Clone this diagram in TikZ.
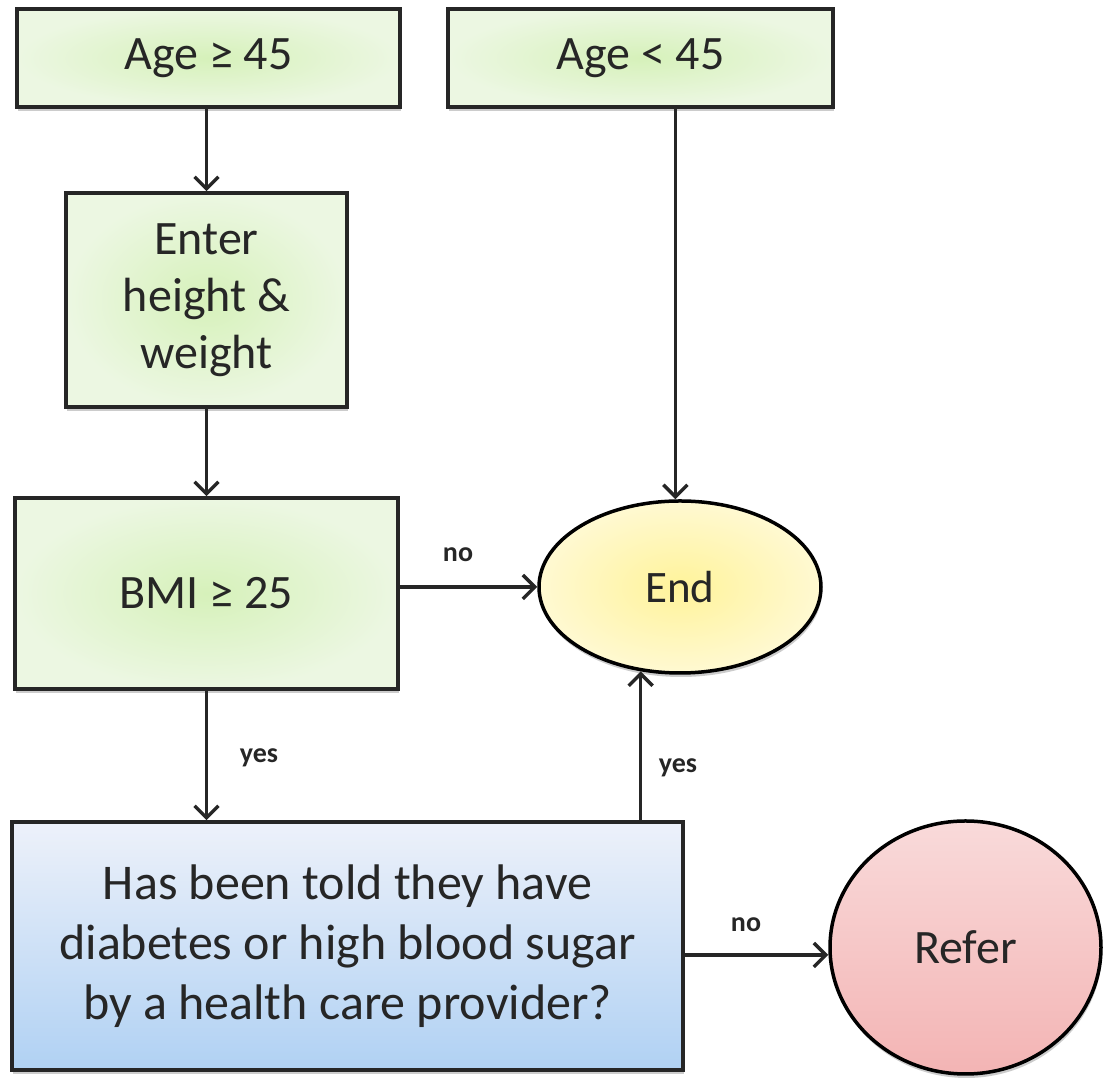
\documentclass[tikz,border=0pt]{standalone}
\usepackage{fontspec}
\setmainfont{Carlito}
\usetikzlibrary{arrows.meta,shapes.geometric,shadows}

\definecolor{inkline}{HTML}{262626}
\definecolor{greenin}{HTML}{D6F1BA}
\definecolor{greenout}{HTML}{ECF7E2}
\definecolor{bluetop}{HTML}{EDF1FA}
\definecolor{bluebot}{HTML}{B0D1F3}
\definecolor{yellowin}{HTML}{FFF39A}
\definecolor{yellowout}{HTML}{FFF9D2}
\definecolor{pinktop}{HTML}{F9DADA}
\definecolor{pinkbot}{HTML}{F3B4B4}

\tikzset{
  x=1pt, y=1pt,
  softshadow/.style={drop shadow={shadow xshift=1pt, shadow yshift=-4pt, opacity=0.2, fill=black}},
  greenbox/.style={draw=inkline, line width=3.5pt, rectangle, align=center,
    inner color=greenin, outer color=greenout, softshadow,
    font=\fontsize{48}{57}\selectfont, text=black!85},
  bluebox/.style={draw=inkline, line width=3.5pt, rectangle, align=center,
    top color=bluetop, bottom color=bluebot, softshadow,
    font=\fontsize{50}{60}\selectfont, text=black!85},
  endshape/.style={draw=black, line width=3.5pt, ellipse, inner sep=0pt,
    inner color=yellowin, outer color=yellowout, softshadow,
    font=\fontsize{45}{54}\selectfont, text=black!85},
  refershape/.style={draw=black, line width=3.5pt, ellipse, inner sep=0pt,
    top color=pinktop, bottom color=pinkbot, softshadow,
    font=\fontsize{48}{57}\selectfont, text=black!85},
  arr/.style={draw=inkline, line width=3.5pt,
    -{Straight Barb[length=12pt, width=24pt, line width=3.5pt]}},
  lbl/.style={font=\bfseries\fontsize{28}{32}\selectfont, text=black!85, inner sep=0pt}
}

\begin{document}
\begin{tikzpicture}
  \useasboundingbox (0,0) rectangle (1104,1078);

  % entry conditions
  \node[greenbox, minimum width=383, minimum height=98] (ageA) at (208.5,1020) {Age ≥ 45};
  \node[greenbox, minimum width=385, minimum height=98] (ageB) at (640.5,1020) {Age < 45};

  % left column of steps
  \node[greenbox, minimum width=281, minimum height=214] (enter) at (206.5,778) {Enter\\height \&\\weight};
  \node[greenbox, minimum width=383, minimum height=191] (bmi) at (206.5,484.5) {BMI ≥ 25};
  \node[bluebox, minimum width=671, minimum height=248] (has) at (347.5,132)
    {Has been told they have\\diabetes or high blood sugar\\by a health care provider?};

  % terminals
  \node[endshape, minimum width=282, minimum height=172] (end) at (680,491) {End};
  \node[refershape, minimum width=271, minimum height=253] (refer) at (965.5,130.5) {Refer};

  % connectors
  \draw[arr] (enter.north |- ageA.south) -- (enter.north);
  \draw[arr] (enter.south) -- (bmi.north);
  \draw[arr] (end.93 |- ageB.south) -- (end.93);
  \draw[arr] (bmi.east |- end.west) -- (end.west);
  \draw[arr] (bmi.south) -- (bmi.south |- has.north);
  \draw[arr] (end.-115 |- has.north) -- (end.-115);
  \draw[arr] ([yshift=-9pt]has.east) -- ([yshift=-9pt]has.east -| refer.west);

  % branch labels
  \node[lbl] (noA) at (458,523) {no};
  \node[lbl] (yesA) at (259,320) {yes};
  \node[lbl] (yesB) at (678,310) {yes};
  \node[lbl] (noB) at (746,153) {no};
\end{tikzpicture}
\end{document}
